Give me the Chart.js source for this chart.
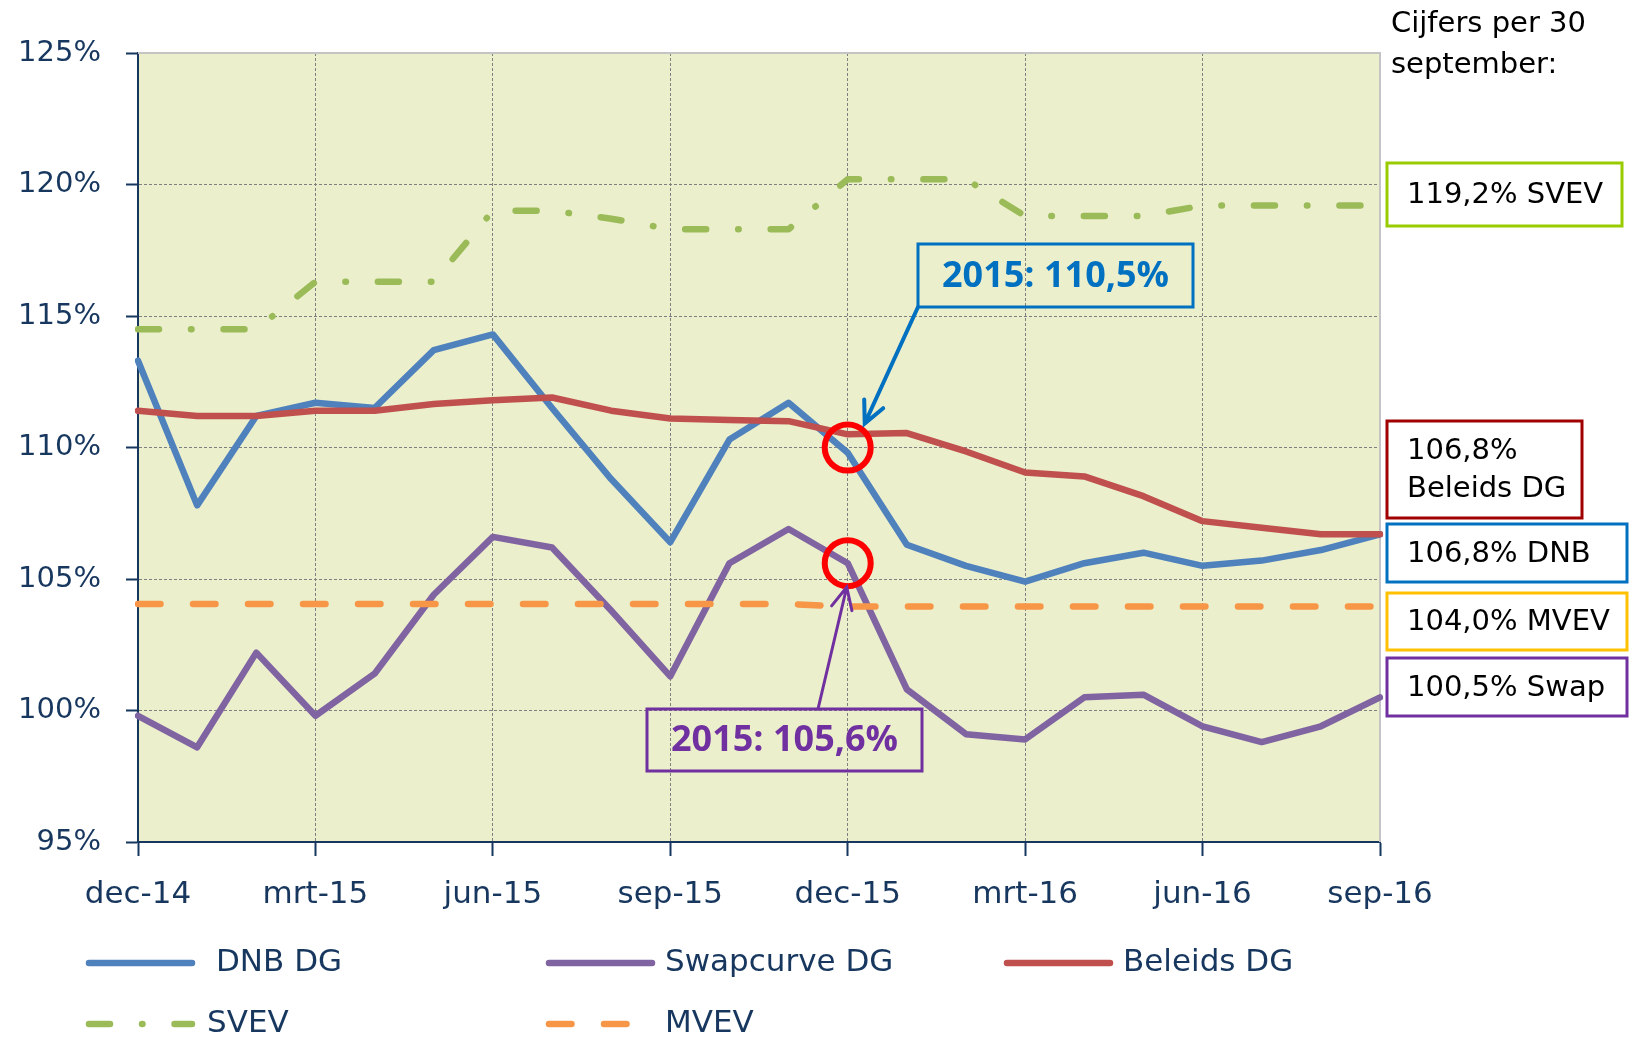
<!DOCTYPE html>
<html lang="nl">
<head>
  <meta charset="UTF-8">
  <title>Dekkingsgraad</title>
  <script src="https://cdn.jsdelivr.net/npm/chart.js"></script>
  <style>
    html, body { margin: 0; padding: 0; background: #fff; }
    #wrap { position: relative; width: 1630px; height: 1038px; }
  </style>
</head>
<body>
  <div id="wrap"><canvas id="chart"></canvas></div>

  <script>
    // maanden (categorieen) en zichtbare as-labels
    const months = ['dec-14', 'jan-15', 'feb-15', 'mrt-15', 'apr-15', 'mei-15', 'jun-15', 'jul-15',
      'aug-15', 'sep-15', 'okt-15', 'nov-15', 'dec-15', 'jan-16', 'feb-16', 'mrt-16', 'apr-16',
      'mei-16', 'jun-16', 'jul-16', 'aug-16', 'sep-16'];
    const xTickLabels = ['dec-14', 'mrt-15', 'jun-15', 'sep-15', 'dec-15', 'mrt-16', 'jun-16', 'sep-16'];
    const yTicks = [95, 100, 105, 110, 115, 120, 125];

    // dekkingsgraden in %
    const dnbDG     = [113.3, 107.8, 111.2, 111.7, 111.5, 113.7, 114.3, 111.5, 108.8, 106.4, 110.3,
                       111.7, 109.8, 106.3, 105.5, 104.9, 105.6, 106.0, 105.5, 105.7, 106.1, 106.7];
    const swapDG    = [99.8, 98.6, 102.2, 99.8, 101.4, 104.4, 106.6, 106.2, 103.8, 101.3, 105.6,
                       106.9, 105.6, 100.8, 99.1, 98.9, 100.5, 100.6, 99.4, 98.8, 99.4, 100.5];
    const beleidsDG = [111.4, 111.2, 111.2, 111.4, 111.4, 111.65, 111.8, 111.9, 111.4, 111.1, 111.05,
                       111.0, 110.5, 110.55, 109.85, 109.05, 108.9, 108.15, 107.2, 106.95, 106.7, 106.7];
    const svev      = [114.5, 114.5, 114.5, 116.3, 116.3, 116.3, 119.0, 119.0, 118.7, 118.3, 118.3,
                       118.3, 120.2, 120.2, 120.2, 118.8, 118.8, 118.8, 119.2, 119.2, 119.2, 119.2];
    const mvev      = [104.05, 104.05, 104.05, 104.05, 104.05, 104.05, 104.05, 104.05, 104.05, 104.05, 104.05,
                       104.05, 103.95, 103.95, 103.95, 103.95, 103.95, 103.95, 103.95, 103.95, 103.95, 103.95];

    // omcirkelde punten (dec-15)
    const markMonth = 'dec-15';
    const markValues = [110.0, 105.6];

    const NAVY = '#17375E';
    const FONT = 'DejaVu Sans';
    const dashDot = [21, 32, 0.5, 32];
    const dashed = [22.5, 32.5];

    Chart.defaults.font.family = FONT;

    const legendItems = [
      { label: 'DNB DG', color: '#4F81BD', dash: [], x: 86, y: 963, tx: 216 },
      { label: 'Swapcurve DG', color: '#8064A2', dash: [], x: 546, y: 963, tx: 665 },
      { label: 'Beleids DG', color: '#C0504D', dash: [], x: 1004, y: 963, tx: 1123 },
      { label: 'SVEV', color: '#9BBB59', dash: dashDot, x: 86, y: 1024, tx: 207 },
      { label: 'MVEV', color: '#F79646', dash: dashed, x: 546, y: 1024, tx: 665 }
    ];

    const valueBoxes = [
      { lines: ['119,2% SVEV'], color: '#99CC00', x: 1387, y: 163, w: 235, h: 63 },
      { lines: ['106,8%', 'Beleids DG'], color: '#A00000', x: 1387, y: 421, w: 195, h: 97 },
      { lines: ['106,8% DNB'], color: '#0070C0', x: 1387, y: 524, w: 240, h: 58 },
      { lines: ['104,0% MVEV'], color: '#FFC000', x: 1387, y: 593, w: 240, h: 57 },
      { lines: ['100,5% Swap'], color: '#7030A0', x: 1387, y: 658, w: 240, h: 58 }
    ];

    function arrow(ctx, x1, y1, x2, y2, color, width) {
      const a = Math.atan2(y1 - y2, x1 - x2);
      const len = 24, spread = 0.45;
      ctx.save();
      ctx.strokeStyle = color;
      ctx.lineWidth = width;
      ctx.lineCap = 'round';
      ctx.setLineDash([]);
      ctx.beginPath();
      ctx.moveTo(x1, y1);
      ctx.lineTo(x2, y2);
      ctx.moveTo(x2 + len * Math.cos(a - spread), y2 + len * Math.sin(a - spread));
      ctx.lineTo(x2, y2);
      ctx.lineTo(x2 + len * Math.cos(a + spread), y2 + len * Math.sin(a + spread));
      ctx.stroke();
      ctx.restore();
    }

    function noteBox(ctx, text, color, x, y, w, h) {
      ctx.save();
      ctx.strokeStyle = color;
      ctx.lineWidth = 3;
      ctx.setLineDash([]);
      ctx.strokeRect(x, y, w, h);
      ctx.fillStyle = color;
      ctx.font = 'bold 36px "Open Sans"';
      ctx.textAlign = 'center';
      ctx.textBaseline = 'middle';
      ctx.fillText(text, x + w / 2, y + h / 2 + 1);
      ctx.restore();
    }

    const decor = {
      id: 'decor',
      beforeDraw(chart) {
        const { ctx, chartArea: a } = chart;
        ctx.save();
        ctx.fillStyle = '#EBEFCC';
        ctx.fillRect(a.left, a.top, a.right - a.left, a.bottom - a.top);
        ctx.restore();
      },
      beforeDatasetsDraw(chart) {
        const { ctx, chartArea: a } = chart;
        ctx.save();
        ctx.strokeStyle = '#C4C4C4';
        ctx.lineWidth = 2;
        ctx.beginPath();
        ctx.moveTo(a.left, a.top);
        ctx.lineTo(a.right, a.top);
        ctx.lineTo(a.right, a.bottom);
        ctx.stroke();
        ctx.restore();
      },
      afterDatasetsDraw(chart) {
        const { ctx, scales: { x, y } } = chart;
        const cx = x.getPixelForValue(months.indexOf(markMonth));
        const c1 = y.getPixelForValue(markValues[0]);
        const c2 = y.getPixelForValue(markValues[1]);

        ctx.save();
        ctx.strokeStyle = '#FF0000';
        ctx.lineWidth = 6;
        markValues.forEach(v => {
          ctx.beginPath();
          ctx.arc(cx, y.getPixelForValue(v), 23, 0, Math.PI * 2);
          ctx.stroke();
        });
        ctx.restore();

        noteBox(ctx, '2015: 110,5%', '#0070C0', 918, 244, 275, 63);
        arrow(ctx, 918, 307, cx + 17, c1 - 24, '#0070C0', 4);

        noteBox(ctx, '2015: 105,6%', '#7030A0', 647, 709, 275, 62);
        arrow(ctx, 818, 709, cx - 1, c2 + 24, '#7030A0', 3);
      },
      afterDraw(chart) {
        const ctx = chart.ctx;
        ctx.save();
        // legenda
        ctx.textBaseline = 'middle';
        ctx.textAlign = 'left';
        legendItems.forEach(it => {
          ctx.strokeStyle = it.color;
          ctx.lineWidth = 6.5;
          ctx.lineCap = 'round';
          ctx.setLineDash(it.dash);
          ctx.beginPath();
          ctx.moveTo(it.x + 3, it.y);
          ctx.lineTo(it.x + 106, it.y);
          ctx.stroke();
          ctx.setLineDash([]);
          ctx.fillStyle = NAVY;
          ctx.font = '31px ' + FONT;
          ctx.fillText(it.label, it.tx, it.y);
        });

        // toelichting rechts
        ctx.fillStyle = '#000';
        ctx.font = '29px ' + FONT;
        ctx.fillText('Cijfers per 30', 1391, 24);
        ctx.fillText('september:', 1391, 65);

        valueBoxes.forEach(b => {
          ctx.strokeStyle = b.color;
          ctx.lineWidth = 3;
          ctx.strokeRect(b.x, b.y, b.w, b.h);
          ctx.fillStyle = '#000';
          const lh = 38;
          const y0 = b.y + b.h / 2 - (b.lines.length - 1) * lh / 2;
          b.lines.forEach((t, i) => ctx.fillText(t, b.x + 20, y0 + i * lh + 1));
        });
        ctx.restore();
      }
    };

    const lineDs = (label, data, color, dash) => ({
      label, data,
      borderColor: color,
      backgroundColor: color,
      borderWidth: 6.5,
      borderDash: dash,
      borderCapStyle: 'round',
      borderJoinStyle: 'round',
      pointRadius: 0,
      tension: 0,
      fill: false
    });

    const ctx = document.getElementById('chart').getContext('2d');
    new Chart(ctx, {
      type: 'line',
      data: {
        labels: months,
        datasets: [
          lineDs('SVEV', svev, '#9BBB59', dashDot),
          lineDs('MVEV', mvev, '#F79646', dashed),
          lineDs('Beleids DG', beleidsDG, '#C0504D', []),
          lineDs('DNB DG', dnbDG, '#4F81BD', []),
          lineDs('Swapcurve DG', swapDG, '#8064A2', [])
        ]
      },
      options: {
        responsive: true,
        maintainAspectRatio: false,
        animation: false,
        layout: { padding: { top: 53, right: 250, left: 0, bottom: 0 } },
        plugins: {
          legend: { display: false },
          tooltip: { enabled: false }
        },
        scales: {
          x: {
            offset: false,
            afterFit(scale) { scale.height = 196; },
            border: { display: true, color: NAVY, width: 2, dash: [3, 2] },
            grid: {
              color: c => (c.index % 3 === 0 ? '#7F7F7F' : 'rgba(0,0,0,0)'),
              tickColor: c => (c.index % 3 === 0 ? NAVY : 'rgba(0,0,0,0)'),
              tickBorderDash: [],
              tickWidth: 2,
              tickLength: 14,
              lineWidth: 1
            },
            ticks: {
              autoSkip: false,
              maxRotation: 0,
              padding: 20,
              color: NAVY,
              font: { size: 31 },
              callback(v, i) {
                return xTickLabels.includes(months[i]) ? months[i] : '';
              }
            }
          },
          y: {
            min: yTicks[0],
            max: yTicks[yTicks.length - 1],
            afterFit(scale) { scale.width = 138; },
            afterBuildTicks(scale) { scale.ticks = yTicks.map(v => ({ value: v })); },
            border: { display: true, color: NAVY, width: 2, dash: [3, 2] },
            grid: {
              color: '#7F7F7F',
              tickColor: NAVY,
              tickBorderDash: [],
              tickWidth: 2,
              tickLength: 12,
              lineWidth: 1
            },
            ticks: {
              padding: 25,
              color: NAVY,
              font: { size: 29 },
              callback: v => v + '%'
            }
          }
        }
      },
      plugins: [decor]
    });
  </script>
</body>
</html>
